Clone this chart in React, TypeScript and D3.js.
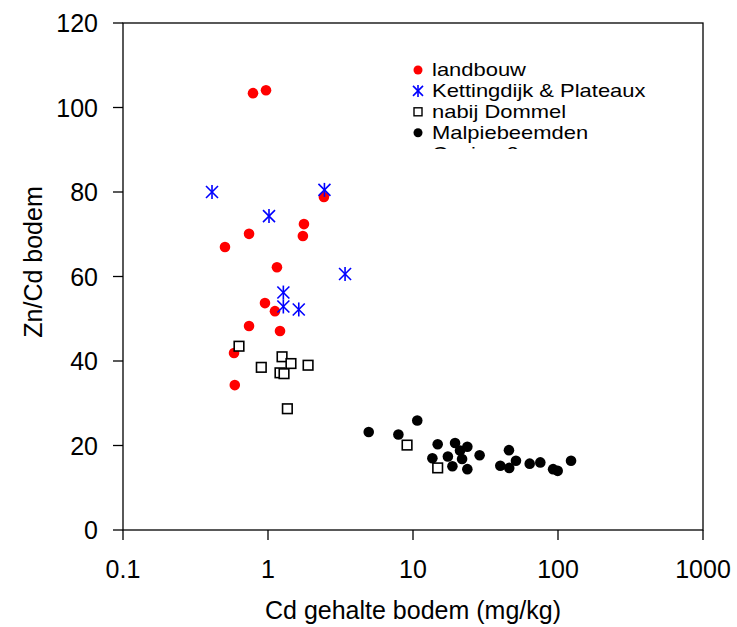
import React from "react";
import * as d3 from "d3";

const landbouwX = [0.788, 0.969, 2.43, 1.77, 1.74, 0.74, 0.505, 1.153, 0.953, 1.117, 0.74, 1.21, 0.583, 0.59];
const landbouwY = [103.4, 104.1, 78.8, 72.4, 69.6, 70.1, 67.0, 62.2, 53.7, 51.8, 48.3, 47.1, 41.9, 34.3];

const kettingX = [0.411, 2.45, 1.016, 1.276, 1.276, 1.63, 3.4];
const kettingY = [80.0, 80.5, 74.3, 56.2, 52.9, 52.2, 60.6];

const dommelX = [0.631, 1.25, 0.899, 1.44, 1.89, 1.21, 1.29, 1.36, 9.1, 14.8];
const dommelY = [43.5, 41.0, 38.5, 39.4, 39.0, 37.2, 37.0, 28.7, 20.1, 14.7];

const malpieX = [4.95, 7.93, 10.7, 14.8, 19.5, 23.7, 21.1, 17.4, 13.6, 18.7, 21.8, 23.7, 28.8, 45.9, 40.0, 46.1, 51.3, 63.8, 75.5, 92.5, 99.5, 123];
const malpieY = [23.2, 22.6, 25.9, 20.3, 20.6, 19.7, 18.8, 17.4, 17.0, 15.1, 16.8, 14.4, 17.7, 18.9, 15.2, 14.7, 16.4, 15.7, 16.0, 14.4, 14.0, 16.4];

const xTicks = [0.1, 1, 10, 100, 1000];
const xTickLabels = ["0.1", "1", "10", "100", "1000"];
const yTicks = [0, 20, 40, 60, 80, 100, 120];
const legendLabels = ["landbouw", "Kettingdijk & Plateaux", "nabij Dommel", "Malpiebeemden", "Casino 2"];

const FONT = "'Liberation Sans', Arial, sans-serif";

const Star = ({ x, y, s = 6 }: { x: number; y: number; s?: number }) => (
  <g stroke="#0000ff" strokeWidth={1.6} fill="none">
    <line x1={x} y1={y - s - 1} x2={x} y2={y + s + 1} />
    <line x1={x - s} y1={y - s} x2={x + s} y2={y + s} />
    <line x1={x - s} y1={y + s} x2={x + s} y2={y - s} />
  </g>
);

export default function App() {
  const W = 737, H = 627;
  const L = 123, R = 703, T = 23, B = 530;
  const x = d3.scaleLog().domain([0.1, 1000]).range([L, R]);
  const y = d3.scaleLinear().domain([0, 120]).range([B, T]);

  const legX = 418, legY0 = 70, legDy = 20.9;

  return (
    <svg width={W} height={H} style={{ position: "absolute", left: 0, top: 0 }} fontFamily={FONT}>
      <rect x={0} y={0} width={W} height={H} fill="#fff" />
      <defs>
        <clipPath id="legclip">
          <rect x={400} y={55} width={300} height={94} />
        </clipPath>
      </defs>
      {/* frame */}
      <rect x={L} y={T} width={R - L} height={B - T} fill="none" stroke="#000" strokeWidth={1.3} />
      {/* y ticks */}
      {yTicks.map((t) => (
        <g key={"y" + t}>
          <line x1={L - 10} x2={L} y1={y(t)} y2={y(t)} stroke="#000" strokeWidth={1.3} />
          <text x={L - 25} y={y(t)} textAnchor="end" dominantBaseline="central" fontSize={25}>
            {t}
          </text>
        </g>
      ))}
      {/* x ticks */}
      {xTicks.map((t, i) => (
        <g key={"x" + t}>
          <line x1={x(t)} x2={x(t)} y1={B} y2={B + 10} stroke="#000" strokeWidth={1.3} />
          <text x={x(t)} y={578} textAnchor="middle" fontSize={25}>
            {xTickLabels[i]}
          </text>
        </g>
      ))}
      <text x={413} y={619} textAnchor="middle" fontSize={25}>
        Cd gehalte bodem (mg/kg)
      </text>
      <text transform="translate(42,262) rotate(-90)" textAnchor="middle" fontSize={25}>
        Zn/Cd bodem
      </text>

      {/* data */}
      {landbouwX.map((v, i) => (
        <circle key={"l" + i} cx={x(v)} cy={y(landbouwY[i])} r={5.3} fill="#ff0000" />
      ))}
      {kettingX.map((v, i) => (
        <Star key={"k" + i} x={x(v)} y={y(kettingY[i])} />
      ))}
      {dommelX.map((v, i) => (
        <rect key={"d" + i} x={x(v) - 4.8} y={y(dommelY[i]) - 4.8} width={9.6} height={9.6} fill="#fff" stroke="#000" strokeWidth={1.6} />
      ))}
      {malpieX.map((v, i) => (
        <circle key={"m" + i} cx={x(v)} cy={y(malpieY[i])} r={5.3} fill="#000" />
      ))}

      {/* legend */}
      <g clipPath="url(#legclip)">
        {legendLabels.map((lab, i) => {
          const cy = legY0 + i * legDy;
          let mark;
          if (i === 0) mark = <circle cx={legX} cy={cy} r={4.5} fill="#ff0000" />;
          else if (i === 1) mark = <Star x={legX} y={cy} s={5} />;
          else if (i === 2) mark = <rect x={legX - 4} y={cy - 4} width={8} height={8} fill="#fff" stroke="#000" strokeWidth={1.4} />;
          else if (i === 3) mark = <circle cx={legX} cy={cy} r={4.5} fill="#000" />;
          else mark = <circle cx={legX} cy={cy} r={4.5} fill="#000" />;
          return (
            <g key={"leg" + i}>
              {mark}
              <g transform={`translate(432,${cy}) scale(1.22,1)`}>
                <text x={0} y={0} dominantBaseline="central" fontSize={18}>
                  {lab}
                </text>
              </g>
            </g>
          );
        })}
      </g>
    </svg>
  );
}
